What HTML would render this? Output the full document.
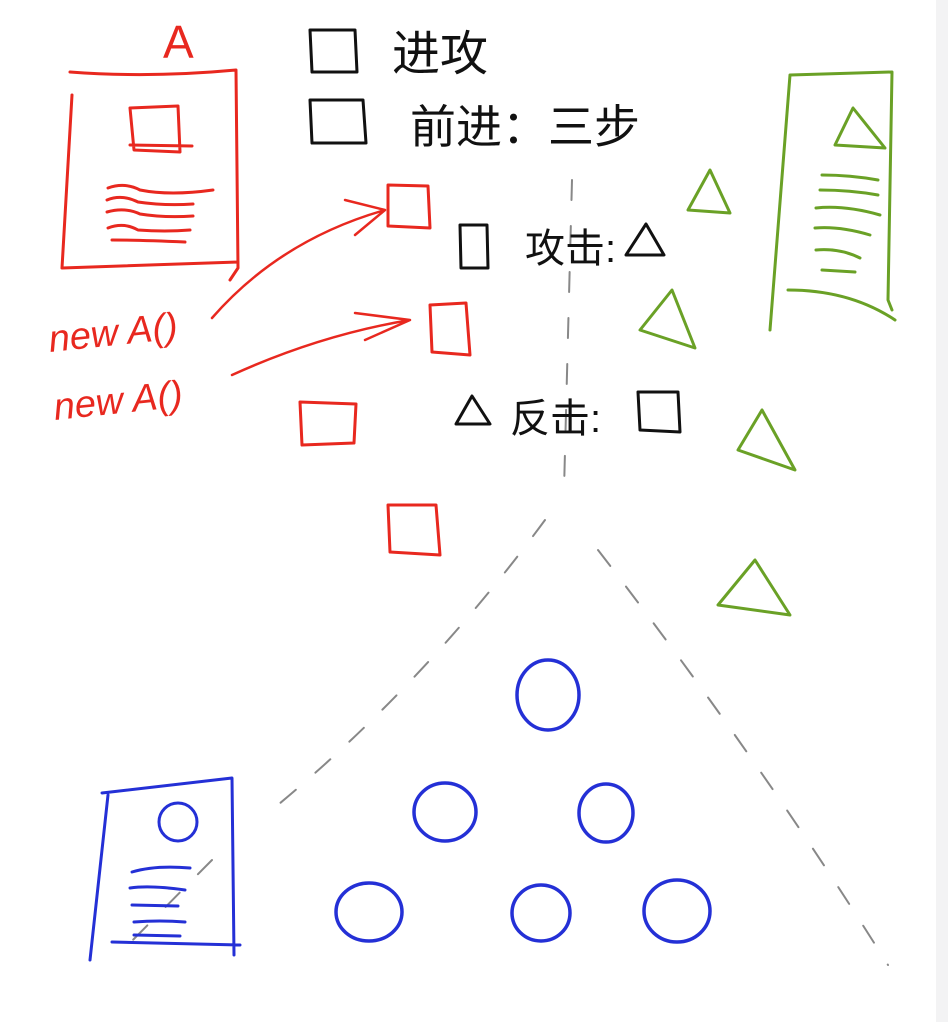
<!DOCTYPE html>
<html><head><meta charset="utf-8">
<style>
html,body{margin:0;padding:0;background:#fff;}
svg{display:block;}
.t{font-family:"Liberation Sans","Noto Sans CJK SC",sans-serif;}
</style></head>
<body>
<svg width="948" height="1022" viewBox="0 0 948 1022" xmlns="http://www.w3.org/2000/svg">
<rect x="0" y="0" width="948" height="1022" fill="#fff"/>
<rect x="936" y="0" width="12" height="1022" fill="#f3f3f4"/>
<g fill="none" stroke-linecap="round" stroke-linejoin="round">
<g stroke="#e8281f" stroke-width="3">
<path d="M70,72 Q150,78 236,70 L238,268 L230,280 M72,95 L62,268 L238,262"/>
<path d="M130,108 L178,106 L180,152 L134,150 Z M130,145 L192,146"/>
<path d="M108,188 Q125,182 140,190 Q170,196 213,190"/>
<path d="M107,200 Q122,194 138,202 Q165,206 193,204"/>
<path d="M107,212 Q125,207 140,214 Q165,218 193,216"/>
<path d="M108,228 Q124,222 138,230 Q165,232 190,230"/>
<path d="M112,240 Q140,240 185,242"/>
</g>
<g stroke="#e8281f" stroke-width="2.5">
<path d="M212,318 Q280,240 385,210 M345,200 L385,210 L355,235"/>
<path d="M232,375 Q320,335 410,320 M355,313 L410,320 L365,340"/>
</g>
<g stroke="#e8281f" stroke-width="3">
<path d="M388,185 L428,186 L430,228 L388,226 Z"/>
<path d="M430,305 L466,303 L470,355 L432,352 Z"/>
<path d="M300,402 L356,404 L354,443 L302,445 Z"/>
<path d="M388,505 L436,505 L440,555 L390,552 Z"/>
</g>
<g stroke="#111" stroke-width="3">
<path d="M310,30 L355,30 L357,72 L312,72 Z"/>
<path d="M310,100 L363,100 L366,143 L312,143 Z"/>
<path d="M460,225 L487,225 L488,268 L461,268 Z"/>
<path d="M456,424 L472,396 L490,424 Z"/>
<path d="M638,392 L678,392 L680,432 L640,430 Z"/>
<path d="M626,255 L646,224 L664,255 Z"/>
</g>
<g stroke="#888" stroke-width="2" stroke-dasharray="20 26">
<path d="M572,180 L564,490"/>
<path d="M545,520 Q420,690 262,818"/>
<path d="M598,550 Q760,760 888,965"/>
<path d="M212,860 L118,955"/>
</g>
<g stroke="#6aa126" stroke-width="3">
<path d="M790,75 L892,72 L888,300 L892,310 M790,75 L770,330 M788,290 Q850,290 895,320"/>
<path d="M853,108 L835,145 L885,148 Z"/>
<path d="M822,175 Q850,175 878,180 M820,190 Q850,190 878,195 M816,208 Q845,205 880,215 M815,228 Q840,226 870,235 M816,250 Q840,248 860,258 M822,270 L855,272"/>
</g>
<g stroke="#6aa126" stroke-width="3">
<path d="M710,170 L688,210 L730,213 Z"/>
<path d="M672,290 L640,330 L695,348 Z"/>
<path d="M762,410 L738,450 L795,470 Z"/>
<path d="M755,560 L718,605 L790,615 Z"/>
</g>
<g stroke="#2430d6" stroke-width="3">
<path d="M102,793 L232,778 L234,955 M108,795 L90,960 M112,942 L240,945"/>
<circle cx="178" cy="822" r="19"/>
<path d="M132,872 Q155,865 190,868 M130,888 Q150,885 185,890 M132,905 L178,906 M134,922 Q160,920 185,922 M134,935 L180,936"/>
</g>
<g stroke="#2430d6" stroke-width="3.5">
<ellipse cx="548" cy="695" rx="31" ry="35"/>
<ellipse cx="445" cy="812" rx="31" ry="29"/>
<ellipse cx="606" cy="813" rx="27" ry="29"/>
<ellipse cx="369" cy="912" rx="33" ry="29"/>
<ellipse cx="541" cy="913" rx="29" ry="28"/>
<ellipse cx="677" cy="911" rx="33" ry="31"/>
</g>
</g>
<text class="t" x="163" y="58" font-size="46" fill="#e8281f">A</text>
<text class="t" x="50" y="352" font-size="38" fill="#e8281f" font-style="italic" transform="rotate(-6 50 352)">new A()</text>
<text class="t" x="55" y="420" font-size="38" fill="#e8281f" font-style="italic" transform="rotate(-6 55 420)">new A()</text>
<text class="t" x="392" y="70" font-size="48" fill="#111">进攻</text>
<text class="t" x="410" y="143" font-size="46" fill="#111">前进：三步</text>
<text class="t" x="525" y="262" font-size="40" fill="#111">攻击:</text>
<text class="t" x="510" y="432" font-size="40" fill="#111">反击:</text>
</svg>
</body></html>
